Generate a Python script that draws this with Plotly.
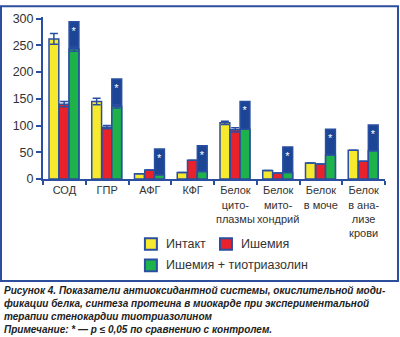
import plotly.graph_objects as go

categories = ["СОД", "ГПР", "АФГ", "КФГ", "Белок<br>цито-<br>плазмы",
              "Белок<br>мито-<br>хондрий", "Белок<br>в моче",
              "Белок<br>в ана-<br>лизе<br>крови"]
intact = [262, 145, 10, 12, 105, 16, 30, 54]
intact_err = [10, 6, 0, 0, 3, 0, 0, 0]
ischemia = [140, 97, 17, 35, 92, 11, 28, 33]
ischemia_err = [5, 3, 0, 0, 4, 0, 0, 0]
tio = [243, 136, 8, 14, 93, 12, 45, 53]
tio_err = [4, 3, 0, 0, 0, 0, 0, 0]
tio_signif = [294, 187, 56, 62, 145, 60, 93, 101]
y_ticks = [0, 50, 100, 150, 200, 250, 300]

YELLOW = "#f7e92e"
RED = "#e8212b"
GREEN = "#1eb24b"
BLUE = "#1c4596"
EDGE = "#2a4fa0"
TXT = "#333333"
FONT = "Liberation Sans, Arial, sans-serif"

W = 0.23
fig = go.Figure()

def bar(y, color, offset, err=None, text=None):
    kw = {}
    if err is not None:
        kw["error_y"] = dict(type="data", array=err, color=EDGE, thickness=1.5, width=4)
    if text is not None:
        kw.update(text=text, textposition="inside", insidetextanchor="end",
                  textfont=dict(color="white", size=11, family=FONT),
                  constraintext="none", textangle=0)
    fig.add_trace(go.Bar(x=categories, y=y, width=W, offset=offset,
                         marker=dict(color=color, line=dict(color=EDGE, width=1.5)),
                         showlegend=False, hoverinfo="skip", **kw))

bar(intact, YELLOW, -0.36, intact_err)
bar(ischemia, RED, -0.12, ischemia_err)
bar(tio_signif, BLUE, 0.11, text=["*"] * len(categories))
bar(tio, GREEN, 0.11, tio_err)

# frame
shapes = [dict(type="rect", xref="paper", yref="paper",
               x0=-0.1228, x1=1.038, y0=-0.629, y1=1.066,
               line=dict(color="#2d4e9c", width=2), fillcolor="rgba(0,0,0,0)")]
# legend
leg = [(YELLOW, 0.298, -0.437, "Интакт", 0.354, -0.401),
       (RED, 0.5175, -0.437, "Ишемия", 0.573, -0.401),
       (GREEN, 0.298, -0.569, "Ишемия + тиотриазолин", 0.354, -0.533)]
annotations = []
for col, sx, sy, label, tx, ty in leg:
    shapes.append(dict(type="rect", xref="paper", yref="paper",
                       x0=sx, x1=sx + 0.035, y0=sy, y1=sy + 0.072,
                       fillcolor=col, line=dict(color=EDGE, width=2)))
    annotations.append(dict(xref="paper", yref="paper", x=tx, y=ty, text=label,
                            showarrow=False, xanchor="left", yanchor="middle",
                            font=dict(family=FONT, size=12.5, color=TXT)))

caption = ("<b><i>Рисунок 4. Показатели антиоксидантной системы, окислительной моди-<br>"
           "фикации белка, синтеза протеина в миокарде при экспериментальной<br>"
           "терапии стенокардии тиотриазолином<br>"
           "Примечание: * — p ≤ 0,05 по сравнению с контролем.</i></b>")
annotations.append(dict(xref="paper", yref="paper", x=-0.1199, y=-0.641,
                        text=caption, showarrow=False, xanchor="left", yanchor="top",
                        align="left", font=dict(family=FONT, size=10, color="#222222")))

fig.update_layout(
    width=400, height=337, barmode="overlay",
    margin=dict(l=43, r=15, t=12, b=158, pad=0),
    plot_bgcolor="white", paper_bgcolor="white",
    font=dict(family=FONT, size=12, color=TXT),
    shapes=shapes, annotations=annotations,
    xaxis=dict(showline=True, linecolor=EDGE, linewidth=2, ticks="outside",
               tickson="boundaries", ticklen=4, tickwidth=2, tickcolor=EDGE,
               tickangle=0, tickfont=dict(size=11, color=TXT), showgrid=False,
               fixedrange=True),
    yaxis=dict(range=[0, 303], tickvals=y_ticks, showline=True, linecolor=EDGE,
               linewidth=2, ticks="outside", ticklen=5, tickwidth=2, tickcolor=EDGE,
               tickfont=dict(size=12.5, color=TXT), showgrid=False, zeroline=False,
               fixedrange=True),
)

fig.write_html("out.html")
